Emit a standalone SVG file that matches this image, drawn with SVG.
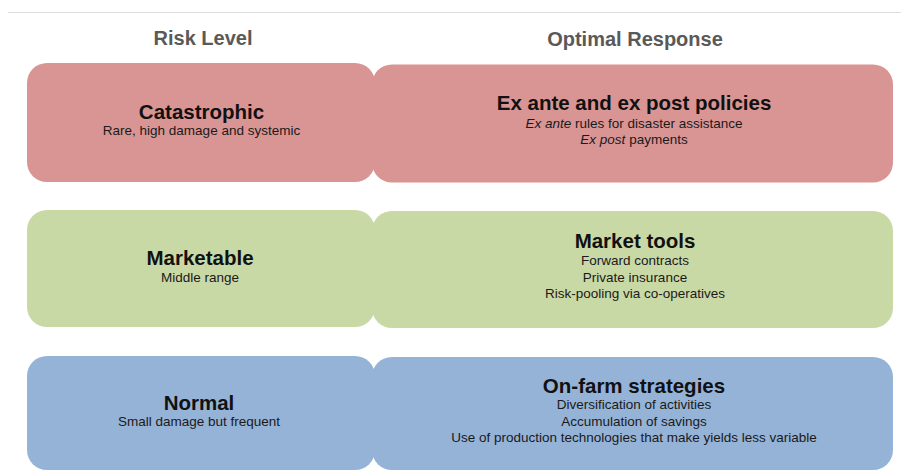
<svg xmlns="http://www.w3.org/2000/svg" width="901" height="471" viewBox="0 0 901 471">
<style>
.hdr{font-family:"Liberation Sans",Arial,sans-serif;font-weight:bold;font-size:20px;fill:#595959;text-anchor:middle}
.ttl{font-family:"Liberation Sans",Arial,sans-serif;font-weight:bold;font-size:20.5px;fill:#111;text-anchor:middle}
.sub{font-family:"Liberation Sans",Arial,sans-serif;font-size:13.5px;fill:#1a1a1a;text-anchor:middle}
.red{fill:#d99594}
.green{fill:#c9d9a6}
.blue{fill:#95b3d7}
</style>
<rect width="901" height="471" fill="#ffffff"/>
<line x1="8" y1="12.5" x2="901" y2="12.5" stroke="#dddddd" stroke-width="1.2"/>
<text class="hdr" x="203" y="44.5">Risk Level</text>
<text class="hdr" x="635" y="46">Optimal Response</text>
<g id="catastrophic">
<rect class="red" x="27" y="63" width="348" height="119" rx="20"/>
<text class="ttl" x="201.5" y="119">Catastrophic</text>
<text class="sub" x="201.5" y="134.5">Rare, high damage and systemic</text>
</g>
<g id="ex-ante-ex-post">
<rect class="red" x="372" y="64.5" width="521" height="118" rx="20"/>
<text class="ttl" x="634" y="110">Ex ante and ex post policies</text>
<text class="sub" x="634" y="127.5"><tspan font-style="italic">Ex ante</tspan> rules for disaster assistance</text>
<text class="sub" x="634" y="144"><tspan font-style="italic">Ex post</tspan> payments</text>
</g>
<g id="marketable">
<rect class="green" x="27" y="210" width="348" height="117" rx="20"/>
<text class="ttl" x="200" y="264.5">Marketable</text>
<text class="sub" x="200" y="281.5">Middle range</text>
</g>
<g id="market-tools">
<rect class="green" x="372" y="211" width="521" height="117" rx="20"/>
<text class="ttl" x="635" y="247.5">Market tools</text>
<text class="sub" x="635" y="265">Forward contracts</text>
<text class="sub" x="635" y="281.5">Private insurance</text>
<text class="sub" x="635" y="298">Risk-pooling via co-operatives</text>
</g>
<g id="normal">
<rect class="blue" x="27" y="356" width="348" height="114" rx="20"/>
<text class="ttl" x="199" y="409.5">Normal</text>
<text class="sub" x="199" y="426">Small damage but frequent</text>
</g>
<g id="on-farm">
<rect class="blue" x="372" y="357" width="521" height="113" rx="20"/>
<text class="ttl" x="634" y="392.5">On-farm strategies</text>
<text class="sub" x="634" y="409">Diversification of activities</text>
<text class="sub" x="634" y="425.5">Accumulation of savings</text>
<text class="sub" x="634" y="442">Use of production technologies that make yields less variable</text>
</g>
<g id="connectors"></g>
</svg>
